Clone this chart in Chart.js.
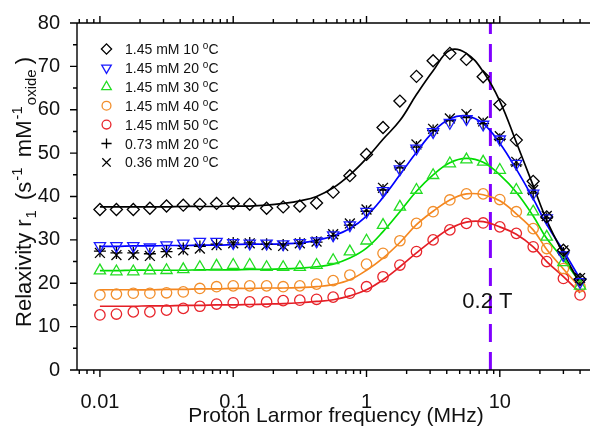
<!DOCTYPE html>
<html>
<head>
<meta charset="utf-8">
<script src="https://cdn.jsdelivr.net/npm/chart.js@4.4.0/dist/chart.umd.min.js"></script>
<style>
    html, body { margin: 0; padding: 0; background: #fff; }
</style>
</head>
<body>
<canvas id="nmrdChart" width="590" height="427"></canvas>
<script>
//datos
var freq = [0.01, 0.0133, 0.0178, 0.0237, 0.0316, 0.0422, 0.0562, 0.075, 0.1, 0.133, 0.178, 0.237, 0.316, 0.422, 0.562,
    0.75, 1, 1.33, 1.78, 2.37, 3.16, 4.22, 5.62, 7.5, 10, 13.3, 17.8, 22.5, 30, 40];

var r1_10C = [37.0, 37.0, 37.0, 37.3, 37.8, 38.0, 38.2, 38.4, 38.4, 38.2, 37.3, 37.6, 37.8, 38.5, 41.0, 44.8, 49.7, 55.9, 62.0, 67.7, 71.3, 73.0, 71.6, 67.6, 61.2, 53.0, 43.5, 35.3, 27.6, 20.9];
var r1_20C = [28.6, 28.6, 28.6, 28.3, 28.8, 29.2, 29.6, 29.6, 29.3, 29.2, 29.2, 29.0, 29.3, 29.7, 31.1, 33.4, 36.5, 41.3, 46.3, 51.1, 54.9, 57.0, 57.9, 56.6, 53.2, 47.6, 40.7, 35.0, 26.5, 20.3];
var r1_30C = [22.9, 22.7, 22.7, 22.9, 23.0, 23.2, 23.7, 24.0, 24.2, 24.2, 23.7, 23.7, 23.7, 24.2, 25.3, 27.3, 29.8, 33.4, 37.6, 41.5, 44.9, 47.6, 48.5, 48.0, 46.1, 41.5, 36.5, 30.7, 24.8, 19.4];
var r1_40C = [17.3, 17.5, 17.7, 17.7, 17.8, 18.0, 18.8, 19.2, 19.4, 19.4, 19.4, 19.2, 19.4, 19.8, 20.6, 21.9, 24.4, 26.9, 29.8, 33.8, 36.5, 39.2, 40.6, 40.6, 39.3, 36.5, 32.6, 28.0, 23.4, 19.2];
var r1_50C = [12.7, 12.9, 13.4, 13.4, 13.8, 14.2, 14.7, 15.2, 15.5, 15.7, 15.7, 16.0, 16.1, 16.3, 16.8, 17.7, 19.2, 21.5, 24.2, 27.3, 30.0, 32.3, 33.8, 33.9, 33.0, 31.5, 28.4, 25.0, 21.1, 17.3];
var r1_073mM = [27.4, 27.0, 27.0, 26.8, 27.3, 28.0, 28.5, 29.0, 29.3, 29.3, 29.0, 28.8, 29.2, 29.5, 31.0, 33.4, 36.6, 41.5, 46.6, 51.4, 55.2, 57.5, 58.2, 56.8, 53.2, 47.3, 40.8, 35.0, 27.0, 20.8];
var r1_036mM = [27.0, 26.5, 26.5, 26.3, 27.0, 27.6, 28.0, 28.8, 29.2, 29.2, 28.8, 28.6, 29.2, 29.6, 31.3, 33.8, 37.0, 42.0, 47.2, 52.0, 55.6, 58.0, 59.0, 57.3, 53.9, 48.0, 41.5, 35.5, 27.6, 21.2];

//ajustes (curvas)
var fit10C = [37.6, 37.6, 37.6, 37.6, 37.6, 37.7, 37.7, 37.7, 37.8, 37.8, 38.0, 38.4, 39.0, 40.0, 42.0, 45.0, 48.8, 53.2, 57.5, 63.5, 69.0, 73.7, 73.0, 68.8, 62.0, 52.5, 42.5, 34.5, 26.8, 20.0];
var fit20C = [28.5, 28.5, 28.6, 28.6, 28.7, 28.7, 28.8, 28.8, 28.9, 29.0, 29.0, 29.1, 29.3, 29.9, 30.9, 32.6, 35.5, 39.8, 45.0, 50.2, 54.9, 57.9, 58.6, 56.8, 52.3, 46.3, 39.5, 33.5, 27.5, 21.0];
var fit30C = [22.9, 22.9, 23.0, 23.0, 23.0, 23.0, 23.1, 23.1, 23.1, 23.2, 23.2, 23.3, 23.5, 23.8, 24.4, 25.8, 28.1, 31.9, 36.5, 41.2, 45.0, 47.8, 48.8, 47.9, 45.0, 41.0, 35.5, 30.3, 25.5, 20.2];
var fit40C = [18.5, 18.5, 18.5, 18.5, 18.6, 18.6, 18.7, 18.7, 18.8, 18.8, 18.9, 18.9, 19.0, 19.2, 19.7, 20.8, 23.0, 25.8, 29.4, 33.5, 36.6, 39.2, 40.6, 40.4, 39.0, 36.0, 32.3, 27.8, 23.3, 19.0];
var fit50C = [14.7, 14.7, 14.7, 14.8, 14.8, 14.9, 14.9, 15.0, 15.0, 15.1, 15.2, 15.3, 15.5, 15.8, 16.2, 17.1, 18.5, 20.8, 23.8, 27.0, 30.0, 32.6, 34.1, 34.2, 33.0, 31.3, 28.4, 25.0, 21.5, 17.8];

var xTicks = [0.01, 0.1, 1, 10];
var yTicks = [0, 10, 20, 30, 40, 50, 60, 70, 80];
var field02T = 8.5;   // MHz, 0.2 T

var FONT = '"Liberation Sans", Arial, sans-serif';

function pts(vals) {
    return freq.map(function (f, i) { return { x: f, y: vals[i] }; });
}

var series = [
    { label: '1.45 mM 10 ', color: '#000000', style: 'rectRot', rot: 0, r: 6, data: r1_10C },
    { label: '1.45 mM 20 ', color: '#1a1aff', style: 'triangle', rot: 180, r: 6.5, data: r1_20C },
    { label: '1.45 mM 30 ', color: '#22dd22', style: 'triangle', rot: 0, r: 6.5, data: r1_30C },
    { label: '1.45 mM 40 ', color: '#f28e2b', style: 'circle', rot: 0, r: 5.2, data: r1_40C },
    { label: '1.45 mM 50 ', color: '#e8242a', style: 'circle', rot: 0, r: 5.2, data: r1_50C },
    { label: '0.73 mM 20 ', color: '#000000', style: 'cross', rot: 0, r: 6, data: r1_073mM },
    { label: '0.36 mM 20 ', color: '#000000', style: 'crossRot', rot: 0, r: 7, data: r1_036mM }
];

var fits = [
    { color: '#000000', data: fit10C },
    { color: '#0000ff', data: fit20C },
    { color: '#00dd00', data: fit30C },
    { color: '#f5871f', data: fit40C },
    { color: '#e41e26', data: fit50C }
];

var datasets = [];
series.forEach(function (s) {
    datasets.push({
        data: pts(s.data),
        showLine: false,
        pointStyle: s.style,
        pointRotation: s.rot,
        pointRadius: s.r,
        pointBorderWidth: 1.3,
        pointBorderColor: s.color,
        pointBackgroundColor: 'rgba(0,0,0,0)',
        clip: false
    });
});
fits.forEach(function (f) {
    datasets.push({
        data: pts(f.data),
        showLine: true,
        borderColor: f.color,
        borderWidth: 1.7,
        pointRadius: 0,
        tension: 0.4,
        fill: false
    });
});
//linea 0.2 T
datasets.push({
    data: [{ x: field02T, y: yTicks[0] }, { x: field02T, y: yTicks[yTicks.length - 1] }],
    showLine: true,
    borderColor: '#8000ff',
    borderWidth: 3,
    borderDash: [18, 10],
    pointRadius: 0
});

//texto con sub/superindices (centrado)
function drawRuns(ctx, runs, x, y) {
    var total = 0;
    runs.forEach(function (r) {
        ctx.font = r.size + 'px ' + FONT;
        r.w = ctx.measureText(r.t).width + (r.gap || 0);
        total += r.w;
    });
    var cx = x - total / 2;
    runs.forEach(function (r) {
        ctx.font = r.size + 'px ' + FONT;
        ctx.fillText(r.t, cx + (r.gap || 0), y + (r.dy || 0));
        cx += r.w;
    });
}

var decor = {
    id: 'decor',
    afterDatasetsDraw: function (chart) {
        var ctx = chart.ctx, a = chart.chartArea, xs = chart.scales.x, ys = chart.scales.y;
        ctx.save();
        ctx.strokeStyle = '#000';
        ctx.lineWidth = 1.4;
        ctx.beginPath();
        ctx.moveTo(a.right + 2, a.top); ctx.lineTo(a.left, a.top);
        ctx.lineTo(a.left, a.bottom); ctx.lineTo(a.right + 2, a.bottom);
        // ticks eje x (arriba y abajo)
        for (var e = -3; e <= 1; e++) {
            for (var k = 1; k < 10; k++) {
                var v = k * Math.pow(10, e);
                if (v < xs.min || v > xs.max) continue;
                var px = xs.getPixelForValue(v), len = k === 1 ? 7 : 4;
                ctx.moveTo(px, a.bottom); ctx.lineTo(px, a.bottom + len);
                ctx.moveTo(px, a.top); ctx.lineTo(px, a.top - len);
            }
        }
        // ticks eje y
        for (var yv = 0; yv <= 80; yv += 5) {
            var py = ys.getPixelForValue(yv), ln = yv % 10 ? 4 : 7;
            ctx.moveTo(a.left, py); ctx.lineTo(a.left - ln, py);
        }
        ctx.stroke();

        ctx.fillStyle = '#111';
        ctx.textBaseline = 'alphabetic';

        // 0.2 T
        ctx.font = '22px ' + FONT;
        ctx.textAlign = 'center';
        ctx.fillText('0.2 T', xs.getPixelForValue(field02T) - 3, 308);

        // titulo eje x
        ctx.font = '21px ' + FONT;
        ctx.fillText('Proton Larmor frequency (MHz)', 336, 422);

        // titulo eje y
        ctx.textAlign = 'left';
        ctx.save();
        ctx.translate(31, 192);
        ctx.rotate(-Math.PI / 2);
        drawRuns(ctx, [
            { t: 'Relaxivity r', size: 22 },
            { t: '1', size: 15, dy: 5, gap: 1 },
            { t: ' (s', size: 22, gap: 4 },
            { t: '-1', size: 15, dy: -9, gap: 1 },
            { t: ' mM', size: 22, gap: 4 },
            { t: '-1', size: 15, dy: -9, gap: 1 },
            { t: 'oxide', size: 15, dy: 5, gap: 1 },
            { t: ')', size: 22, gap: 5 }
        ], 0, 0);
        ctx.restore();

        // leyenda
        series.forEach(function (s, i) {
            var ly = 49 + i * 18.9;
            ctx.strokeStyle = s.color;
            ctx.fillStyle = 'rgba(0,0,0,0)';
            ctx.lineWidth = 1.3;
            Chart.helpers.drawPoint(ctx, { pointStyle: s.style, rotation: s.rot, radius: s.r * 0.85, borderWidth: 1.3 }, 106.5, ly);
            ctx.fillStyle = '#111';
            ctx.font = '14px ' + FONT;
            ctx.textAlign = 'left';
            var tx = 125, ty = ly + 5;
            ctx.fillText(s.label, tx, ty);
            tx += ctx.measureText(s.label).width;
            ctx.font = '10px ' + FONT;
            ctx.fillText('o', tx, ty - 5);
            tx += ctx.measureText('o').width;
            ctx.font = '14px ' + FONT;
            ctx.fillText('C', tx, ty);
        });
        ctx.restore();
    }
};

var myChart = new Chart(document.getElementById('nmrdChart'), {
    type: 'scatter',
    data: { datasets: datasets },
    options: {
        responsive: false,
        animation: false,
        layout: { autoPadding: false, padding: { top: 23, right: 0, left: 0, bottom: 0 } },
        plugins: { legend: { display: false }, tooltip: { enabled: false } },
        scales: {
            x: {
                type: 'logarithmic',
                min: 0.00673,
                max: 47.5,
                afterFit: function (s) { s.height = 57; },
                afterBuildTicks: function (s) { s.ticks = xTicks.map(function (v) { return { value: v }; }); },
                grid: { display: false },
                border: { display: false },
                ticks: {
                    autoSkip: false, maxRotation: 0, padding: 12, color: '#111',
                    font: { family: FONT, size: 20 },
                    callback: function (v) { return String(v); }
                }
            },
            y: {
                min: 0,
                max: 80,
                afterFit: function (s) { s.width = 77; },
                afterBuildTicks: function (s) { s.ticks = yTicks.map(function (v) { return { value: v }; }); },
                grid: { display: false },
                border: { display: false },
                ticks: { padding: 9, color: '#111', font: { family: FONT, size: 20 } }
            }
        }
    },
    plugins: [decor]
});
</script>
</body>
</html>
